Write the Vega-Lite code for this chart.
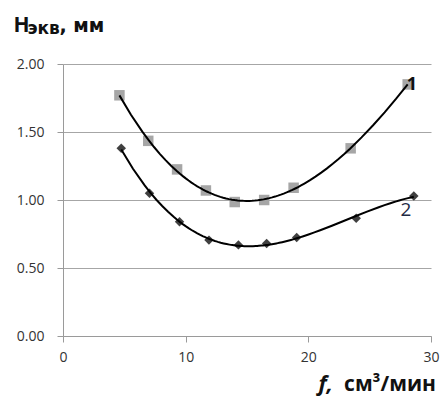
{
"$schema":"https://vega.github.io/schema/vega-lite/v6.json",
"width":368,"height":272,
"autosize":"none",
"padding":{"left":63,"top":64,"right":12,"bottom":60},
"background":"white",
"config":{"view":{"stroke":null},"font":"Open Sans"},
"datasets":{
 "pts":[
  {"f":4.6,"h":1.77,"s":"1"},{"f":6.95,"h":1.435,"s":"1"},{"f":9.3,"h":1.225,"s":"1"},{"f":11.65,"h":1.07,"s":"1"},{"f":14.0,"h":0.985,"s":"1"},{"f":16.4,"h":1.0,"s":"1"},{"f":18.8,"h":1.09,"s":"1"},{"f":23.45,"h":1.38,"s":"1"},{"f":28.1,"h":1.85,"s":"1"},
  {"f":4.75,"h":1.38,"s":"2"},{"f":7.05,"h":1.05,"s":"2"},{"f":9.5,"h":0.84,"s":"2"},{"f":11.9,"h":0.705,"s":"2"},{"f":14.3,"h":0.67,"s":"2"},{"f":16.6,"h":0.68,"s":"2"},{"f":19.05,"h":0.725,"s":"2"},{"f":23.9,"h":0.865,"s":"2"},{"f":28.6,"h":1.03,"s":"2"}
 ],
 "lbl1":[{"f":28.45,"h":1.849,"t":"1"}],
 "lbl2":[{"f":27.96,"h":0.926,"t":"2"}]
},
"title":{"text":"см³/мин","orient":"bottom","anchor":"end","frame":"group","fontSize":21,"fontWeight":"bold","color":"#111","offset":0,"dx":5,"dy":-20},
"layer":[
 {"data":{"name":"pts"},"transform":[{"filter":"datum.s==='1'"}],
  "mark":{"type":"point","shape":"square","filled":true,"size":110,"color":"#a6a6a6","opacity":1},
  "encoding":{
   "x":{"field":"f","type":"quantitative","scale":{"domain":[0,30],"nice":false,"zero":false},
        "axis":{"orient":"bottom","values":[0,10,20,30],"format":"d","grid":false,"domainColor":"#9a9a9a","tickColor":"#9a9a9a","tickSize":6,"labelPadding":8,"labelFontSize":14,"labelColor":"#333333","labelFlush":false,
                "title":"f,","titleFontSize":22,"titleFontWeight":"bold","titleFontStyle":"italic","titleColor":"#111","titleAngle":0,"titleAlign":"left","titleBaseline":"alphabetic","titleX":255,"titleY":54}},
   "y":{"field":"h","type":"quantitative","scale":{"domain":[0,2],"nice":false,"zero":false},
        "axis":{"orient":"left","values":[0,0.5,1,1.5,2],"format":".2f","grid":true,"gridColor":"#a6a6a6","domainColor":"#9a9a9a","tickColor":"#9a9a9a","tickSize":6,"labelPadding":13,"labelFontSize":14,"labelColor":"#333333",
                "title":"H","titleFontSize":21,"titleFontWeight":"bold","titleColor":"#111","titleAngle":0,"titleAlign":"left","titleBaseline":"alphabetic","titleX":-50,"titleY":-33}}
  }},
 {"data":{"name":"pts"},"transform":[{"filter":"datum.s==='2'"}],
  "mark":{"type":"point","shape":"diamond","filled":true,"size":90,"color":"#404040","opacity":1},
  "encoding":{"x":{"field":"f","type":"quantitative","axis":null},"y":{"field":"h","type":"quantitative","axis":null}}},
 {"data":{"name":"pts"},"transform":[{"regression":"h","on":"f","groupby":["s"],"method":"poly","order":3}],
  "mark":{"type":"line","color":"#000","strokeWidth":2},
  "encoding":{"x":{"field":"f","type":"quantitative","axis":null},"y":{"field":"h","type":"quantitative","axis":null},"detail":{"field":"s"}}},
 {"data":{"name":"lbl1"},
  "mark":{"type":"text","fontSize":18,"fontWeight":"bold","color":"#111","align":"center","baseline":"middle"},
  "encoding":{"x":{"field":"f","type":"quantitative","axis":null},"y":{"field":"h","type":"quantitative","axis":null},"text":{"field":"t"}}},
 {"data":{"name":"lbl2"},
  "mark":{"type":"text","fontSize":19,"fontWeight":"normal","color":"#1f2a44","align":"center","baseline":"middle"},
  "encoding":{"x":{"field":"f","type":"quantitative","axis":null},"y":{"field":"h","type":"quantitative","axis":null},"text":{"field":"t"}}},
 {"data":{"name":"lbl1"},
  "mark":{"type":"point","opacity":0},
  "encoding":{
   "x":{"field":"f","type":"quantitative","axis":{"orient":"top","domain":false,"ticks":false,"labels":false,"grid":false,"title":"экв","titleFont":"DejaVu Sans","titleFontSize":17,"titleFontWeight":"bold","titleColor":"#111","titleAngle":0,"titleAlign":"left","titleBaseline":"alphabetic","titleX":-36,"titleY":-31}},
   "y":{"field":"h","type":"quantitative","axis":{"orient":"right","domain":false,"ticks":false,"labels":false,"grid":false,"title":", мм","titleFont":"DejaVu Sans","titleFontSize":19,"titleFontWeight":"bold","titleColor":"#111","titleAngle":0,"titleAlign":"left","titleBaseline":"alphabetic","titleX":-372,"titleY":-33}}
  }}
],
"resolve":{"axis":{"x":"independent","y":"independent"}}
}
